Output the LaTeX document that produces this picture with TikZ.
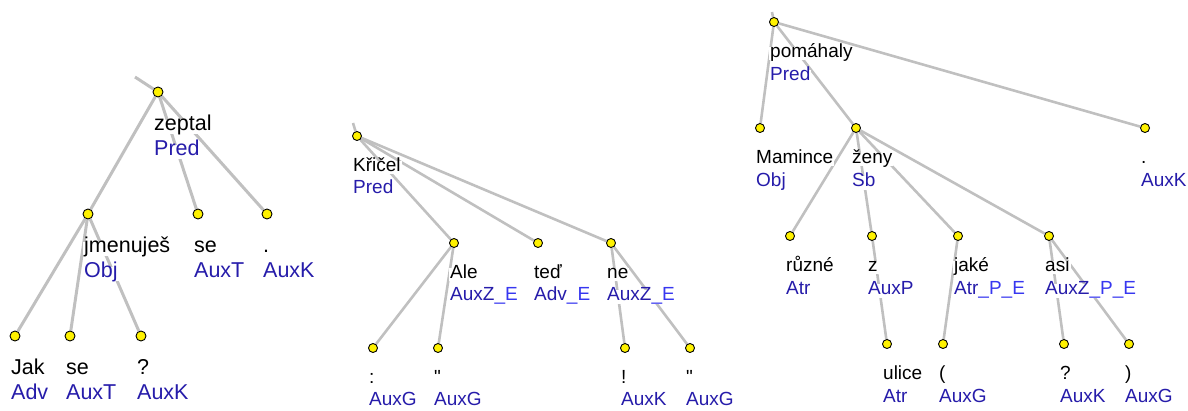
\documentclass[tikz,border=0pt]{standalone}
\usepackage{fontspec}
\setmainfont{Liberation Sans}
\usetikzlibrary{backgrounds}

\definecolor{linkgray}{RGB}{192,192,192}
\definecolor{afunblue}{RGB}{38,28,170}
\definecolor{sfxblue}{RGB}{55,55,240}
\newcommand{\sfx}[1]{\textcolor{sfxblue}{#1}}

\tikzset{
  tnode/.style={circle, fill=yellow, draw=black, line width=0.9pt, inner sep=0pt, minimum size=9pt},
  dep/.style={draw=linkgray, line width=2.6pt},
  textline/.style={anchor=west, xshift=-5pt, fill=white, inner sep=1pt,
    text height=0.92em, text depth=0.2em},
}

\begin{document}
\begin{tikzpicture}[x=1pt, y=-1pt]
  \useasboundingbox (0, 0) rectangle (1188, 410);

  % tree 1
  \begin{scope}[font=\fontsize{21.5}{24}\selectfont,
      tnode/.append style={minimum size=10pt},
      word/.style={textline, label distance=29.5pt},
      afun/.style={textline, label distance=54.5pt, text=afunblue}]
    \coordinate (top1) at (135, 77);
    \node[tnode, label={[word]below:zeptal}, label={[afun]below:Pred}] (zeptal) at (158, 92) {};
    \node[tnode, label={[word]below:jmenuješ}, label={[afun]below:Obj}] (jmen) at (88, 214) {};
    \node[tnode, label={[word]below:se}, label={[afun]below:AuxT}] (sea) at (198, 214) {};
    \node[tnode, label={[word]below:{.}}, label={[afun]below:AuxK}] (dota) at (267, 214) {};
    \node[tnode, label={[word]below:Jak}, label={[afun]below:Adv}] (jak) at (15, 336) {};
    \node[tnode, label={[word]below:se}, label={[afun]below:AuxT}] (seb) at (70, 336) {};
    \node[tnode, label={[word]below:{?}}, label={[afun]below:AuxK}] (qa) at (141, 336) {};

    \begin{pgfonlayer}{background}
      \draw[dep, line width=3pt] (top1) -- (zeptal);
      \draw[dep, line width=3pt] (zeptal) -- (jmen);
      \draw[dep, line width=3pt] (zeptal) -- (sea);
      \draw[dep, line width=3pt] (zeptal) -- (dota);
      \draw[dep, line width=3pt] (jmen) -- (jak);
      \draw[dep, line width=3pt] (jmen) -- (seb);
      \draw[dep, line width=3pt] (jmen) -- (qa);
    \end{pgfonlayer}
  \end{scope}

  % tree 2
  \begin{scope}[font=\fontsize{19}{22}\selectfont,
      word/.style={textline, label distance=26.5pt},
      afun/.style={textline, label distance=49pt, text=afunblue}]
    \coordinate (top2) at (353, 123);
    \node[tnode, label={[word]below:Křičel}, label={[afun]below:Pred}] (kricel) at (357, 136) {};
    \node[tnode, label={[word]below:Ale}, label={[afun]below:AuxZ\sfx{\_E}}] (ale) at (454, 243) {};
    \node[tnode, label={[word]below:teď}, label={[afun]below:Adv\sfx{\_E}}] (ted) at (538, 243) {};
    \node[tnode, label={[word]below:ne}, label={[afun]below:AuxZ\sfx{\_E}}] (ne) at (611, 243) {};
    \node[tnode, label={[word]below:{:}}, label={[afun]below:AuxG}] (colon) at (373, 348) {};
    \node[tnode, label={[word]below:\textquotedbl}, label={[afun]below:AuxG}] (quota) at (438, 348) {};
    \node[tnode, label={[word]below:{!}}, label={[afun]below:AuxK}] (excl) at (625, 348) {};
    \node[tnode, label={[word]below:\textquotedbl}, label={[afun]below:AuxG}] (quotb) at (690, 348) {};

    \begin{pgfonlayer}{background}
      \draw[dep] (top2) -- (kricel);
      \draw[dep] (kricel) -- (ale);
      \draw[dep] (kricel) -- (ted);
      \draw[dep] (kricel) -- (ne);
      \draw[dep] (ale) -- (colon);
      \draw[dep] (ale) -- (quota);
      \draw[dep] (ne) -- (excl);
      \draw[dep] (ne) -- (quotb);
    \end{pgfonlayer}
  \end{scope}

  % tree 3
  \begin{scope}[font=\fontsize{19}{22}\selectfont,
      word/.style={textline, label distance=26.5pt},
      afun/.style={textline, label distance=50pt, text=afunblue}]
    \coordinate (top3) at (772, 12);
    \node[tnode, label={[word]below:pomáhaly}, label={[afun]below:Pred}] (pomahaly) at (774, 22) {};
    \node[tnode, label={[word]below:Mamince}, label={[afun]below:Obj}] (mamince) at (760, 128) {};
    \node[tnode, label={[word]below:ženy}, label={[afun]below:Sb}] (zeny) at (856, 128) {};
    \node[tnode, label={[word]below:{.}}, label={[afun]below:AuxK}] (dotb) at (1145, 128) {};
    \node[tnode, label={[word]below:různé}, label={[afun]below:Atr}] (ruzne) at (790, 236) {};
    \node[tnode, label={[word]below:z}, label={[afun]below:AuxP}] (z) at (872, 236) {};
    \node[tnode, label={[word]below:jaké}, label={[afun]below:Atr\sfx{\_P\_E}}] (jake) at (958, 236) {};
    \node[tnode, label={[word]below:asi}, label={[afun]below:AuxZ\sfx{\_P\_E}}] (asi) at (1049, 236) {};
    \node[tnode, label={[word]below:ulice}, label={[afun]below:Atr}] (ulice) at (887, 344) {};
    \node[tnode, label={[word]below:{(}}, label={[afun]below:AuxG}] (lpar) at (943, 344) {};
    \node[tnode, label={[word]below:{?}}, label={[afun]below:AuxK}] (qb) at (1064, 344) {};
    \node[tnode, label={[word]below:{)}}, label={[afun]below:AuxG}] (rpar) at (1129, 344) {};

    \begin{pgfonlayer}{background}
      \draw[dep] (top3) -- (pomahaly);
      \draw[dep] (pomahaly) -- (mamince);
      \draw[dep] (pomahaly) -- (zeny);
      \draw[dep] (pomahaly) -- (dotb);
      \draw[dep] (zeny) -- (ruzne);
      \draw[dep] (zeny) -- (z);
      \draw[dep] (zeny) -- (jake);
      \draw[dep] (zeny) -- (asi);
      \draw[dep] (z) -- (ulice);
      \draw[dep] (jake) -- (lpar);
      \draw[dep] (asi) -- (qb);
      \draw[dep] (asi) -- (rpar);
    \end{pgfonlayer}
  \end{scope}
\end{tikzpicture}
\end{document}
